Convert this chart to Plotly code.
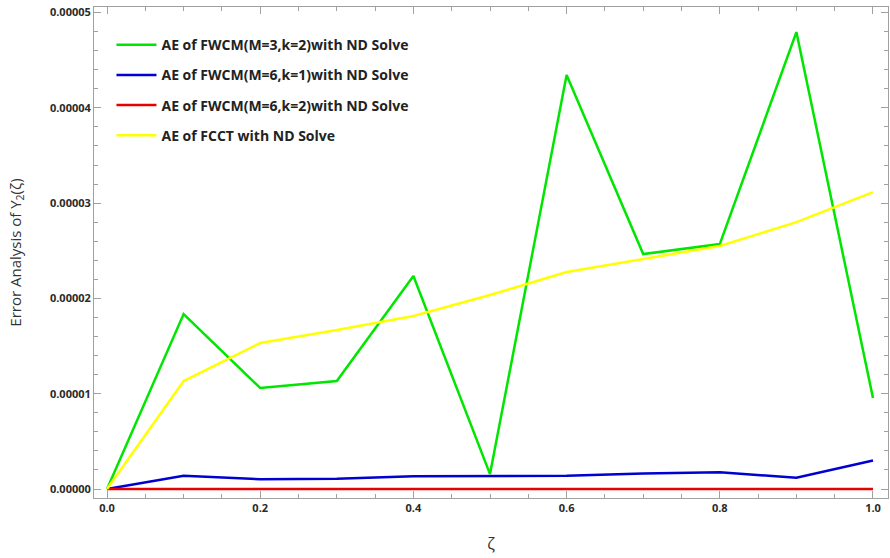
import plotly.graph_objects as go

zeta = [0.0, 0.1, 0.2, 0.3, 0.4, 0.5, 0.6, 0.7, 0.8, 0.9, 1.0]
ae_m3k2 = [0.0, 1.836e-5, 1.06e-5, 1.133e-5, 2.235e-5, 0.157e-5, 4.344e-5, 2.466e-5, 2.57e-5, 4.795e-5, 0.955e-5]
ae_m6k1 = [0.0, 0.14e-5, 0.102e-5, 0.108e-5, 0.134e-5, 0.14e-5, 0.14e-5, 0.164e-5, 0.175e-5, 0.119e-5, 0.30e-5]
ae_m6k2 = [0.0, 0.0, 0.0, 0.0, 0.0, 0.0, 0.0, 0.0, 0.002e-5, 0.0, 0.0]
ae_fcct = [0.0, 1.133e-5, 1.532e-5, 1.668e-5, 1.815e-5, 2.036e-5, 2.277e-5, 2.413e-5, 2.55e-5, 2.80e-5, 3.116e-5]

names = [
    "AE of FWCM(M=3,k=2)with ND Solve",
    "AE of FWCM(M=6,k=1)with ND Solve",
    "AE of FWCM(M=6,k=2)with ND Solve",
    "AE of FCCT with ND Solve",
]
colors = ["#00e600", "#0000d0", "#e60000", "#ffff00"]
series = [ae_m3k2, ae_m6k1, ae_m6k2, ae_fcct]

fig = go.Figure()
for i, (name, col, ys) in enumerate(zip(names, colors, series)):
    fig.add_trace(go.Scatter(x=zeta, y=ys, mode="lines", name=name, legendgroup=f"g{i}",
                             line=dict(color=col, width=2.5)))

font_family = "Open Sans, Lato, sans-serif"
axis_common = dict(
    showline=True, linecolor="#a0a0a0", linewidth=1, mirror="allticks",
    ticks="inside", tickcolor="#a0a0a0", ticklen=7, showgrid=False, zeroline=False,
    tickfont=dict(family=font_family, size=11, color="#2a2a2a", weight="bold"),
)

fig.update_layout(
    width=890, height=558,
    margin=dict(l=94, r=2, t=7, b=60),
    paper_bgcolor="white", plot_bgcolor="white",
    font=dict(family=font_family, color="#333333"),
    showlegend=True,
    legend=dict(x=0.022, y=0.955, xanchor="left", yanchor="top",
                bgcolor="rgba(0,0,0,0)", tracegroupgap=9,
                font=dict(family=font_family, size=14, color="#222222", weight="bold"),
                itemwidth=40),
    xaxis=dict(range=[-0.017, 1.0196], tickvals=[0, 0.2, 0.4, 0.6, 0.8, 1.0],
               tickformat=".1f",
               minor=dict(dtick=0.05, tick0=0, ticks="inside", ticklen=4, tickcolor="#a0a0a0"),
               title=dict(text="ζ", font=dict(family=font_family, size=16, color="#333333"), standoff=24),
               **axis_common),
    yaxis=dict(range=[-0.094e-5, 5.058e-5], tickvals=[0, 1e-5, 2e-5, 3e-5, 4e-5, 5e-5],
               tickformat=".5f",
               minor=dict(dtick=0.2e-5, tick0=0, ticks="inside", ticklen=4, tickcolor="#a0a0a0"),
               title=dict(text="Error Analysis of Y<sub>2</sub>(ζ)",
                          font=dict(family=font_family, size=15, color="#333333"), standoff=24),
               **axis_common),
)

fig.write_html("out.html")
